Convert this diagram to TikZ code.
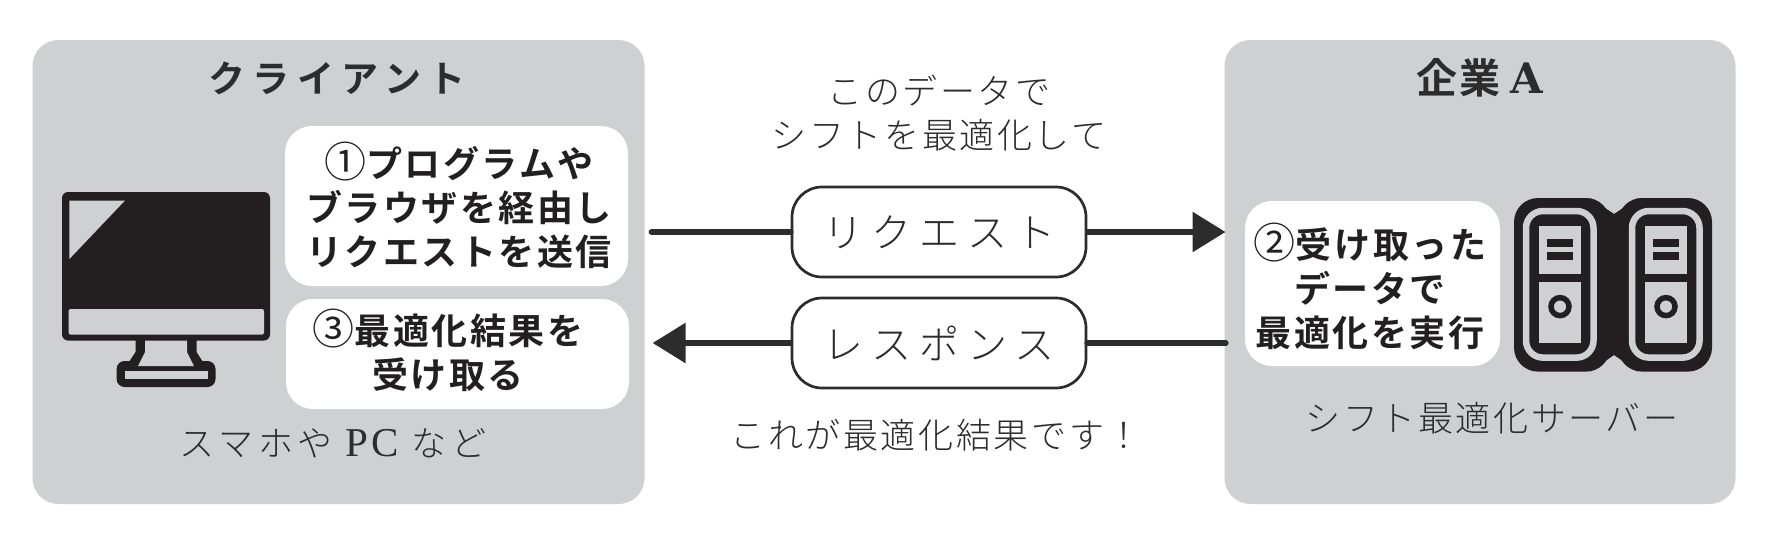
\documentclass[tikz,border=0pt]{standalone}
\usepackage{fontspec}
\usetikzlibrary{arrows.meta}
\newfontfamily\jpreg[LetterSpace=7.5]{Noto Sans CJK JP Light}
\newfontfamily\jpwider[LetterSpace=14]{Noto Sans CJK JP Light}
\newfontfamily\jpwide[LetterSpace=20]{Noto Sans CJK JP Light}
\newfontfamily\jpbold[LetterSpace=7]{Noto Sans CJK JP Bold}
\newfontfamily\jptitle[LetterSpace=20]{Noto Sans CJK JP Bold}
\newfontfamily\jpcorp[LetterSpace=5]{Noto Sans CJK JP Bold}
\newfontfamily\jpnum{Noto Sans CJK JP}
\newfontfamily\latinserif[LetterSpace=8]{Liberation Serif}
\newfontfamily\latinslab{DejaVu Serif}
\newcommand{\circnum}[1]{{\jpnum\fontsize{42}{44}\selectfont #1}}
\definecolor{panelgray}{HTML}{CFD0D2}
\definecolor{ink}{HTML}{231F20}
\definecolor{softink}{HTML}{2C2C2C}
\tikzset{
  panel/.style={fill=panelgray,rounded corners=26pt,inner sep=0pt,draw=none},
  whitebox/.style={fill=white,rounded corners=27pt,inner sep=0pt,draw=none},
  msgbox/.style={fill=white,draw=softink,line width=2.7pt,rounded corners=30pt,inner sep=0pt,minimum width=294pt,minimum height=90pt,text=softink,font=\jpwide\fontsize{40}{46}\selectfont},
  thin label/.style={text=softink,inner sep=0pt,align=center,font=\jpreg\fontsize{35}{44}\selectfont},
  bold label/.style={text=ink,inner sep=0pt,align=center,font=\jpbold\fontsize{36}{44}\selectfont},
  head label/.style={text=softink,inner sep=0pt,font=\jptitle\fontsize{37}{44}\selectfont},
  flow/.style={draw=softink,line width=6pt,line cap=round},
  flowtip/.style={draw=softink,line width=6pt,-{Triangle[length=33pt,width=39pt]}},
}
\begin{document}
\begin{tikzpicture}[x=1pt,y=-1pt]
\useasboundingbox (0,0) rectangle (1774,542);
% panels
\node[panel,minimum width=612pt,minimum height=464pt] (client) at (338.5,272) {};
\node[panel,minimum width=511pt,minimum height=464pt] (company) at (1480,272) {};
\node[head label] (clienttitle) at (337,78) {クライアント};
\node[head label] (companytitle) at (1480,78) {\jpcorp\fontsize{41}{44}\selectfont 企業\hspace{10pt}{\latinslab\bfseries\fontsize{42}{44}\selectfont A}};
% white boxes
\node[whitebox,minimum width=343pt,minimum height=160pt] (b1) at (456.5,206) {};
\node[whitebox,minimum width=343pt,minimum height=110pt] (b3) at (457.5,354) {};
\node[whitebox,minimum width=255pt,minimum height=165pt] (b2) at (1372.5,283.5) {};
\node[bold label] (t1) at (459,205) {\circnum{①}プログラムや\\ブラウザを経由し\\リクエストを送信};
\node[bold label] (t3) at (448,350) {\circnum{③}最適化結果を\\受け取る};
\node[bold label] (t2) at (1370,286) {\circnum{②}受け取った\\データで\\最適化を実行};
% monitor
\fill[ink,rounded corners=6pt] (62,192) rectangle (270,340.5);
\fill[panelgray] (69.4,200.5) -- (125,200.5) -- (69.4,259) -- cycle;
\fill[panelgray,rounded corners=2pt] (68.6,309) rectangle (264,334.6);
\fill[ink,rounded corners=8pt] (116.6,361) rectangle (215.5,387);
\fill[ink] (135.5,338) -- (196.5,338) -- (196.5,352) -- (203,362) -- (129,362) -- (135.5,352) -- cycle;
\fill[panelgray] (145,340.5) -- (187,340.5) -- (187,352) -- (194,366) -- (138,366) -- (145,352) -- cycle;
\fill[panelgray] (125,370.5) rectangle (208,379);
\node[thin label,font=\jpwider\fontsize{35}{44}\selectfont] (clientcap) at (333,443) {スマホや {\latinserif\fontsize{41}{44}\selectfont PC} など};
% server
\fill[ink,rounded corners=24pt] (1514,198) rectangle (1610,371.6);
\fill[ink,rounded corners=24pt] (1618,198) rectangle (1712,371.6);
\fill[ink] (1590,198) -- (1614,214) -- (1638,198) -- (1638,371.6) -- (1614,355) -- (1590,371.6) -- cycle;
\foreach \dx in {0,106}{
  \begin{scope}[xshift=\dx pt]
    \draw[panelgray,line width=6.5pt,rounded corners=17pt] (1526,211) rectangle (1593.5,357.6);
    \fill[panelgray] (1539,226) rectangle (1581,274);
    \fill[panelgray] (1539,282) rectangle (1581,343);
    \fill[ink] (1547,238.5) rectangle (1573,247);
    \fill[ink] (1547,251.6) rectangle (1573,260);
    \draw[ink,line width=5.5pt] (1560,306.6) circle (9pt);
  \end{scope}
}
\node[thin label] (servercap) at (1492,418) {シフト最適化サーバー};
% centre
\node[thin label] (asktext) at (939,113) {このデータで\\シフトを最適化して};
\node[msgbox] (req) at (939,232) {リクエスト};
\node[msgbox] (res) at (939,343) {レスポンス};
\node[thin label] (restext) at (936,435) {これが最適化結果です！};
% connectors
\coordinate (reqstart) at (651.6,232);
\coordinate (reqend) at (1225.5,232);
\coordinate (resstart) at (1225.6,343);
\coordinate (resend) at (652.6,343);
\draw[flow] (reqstart) -- (req.west);
\draw[flowtip] (req.east) -- (reqend);
\draw[flow] (resstart) -- (res.east);
\draw[flowtip] (res.west) -- (resend);
\end{tikzpicture}
\end{document}
